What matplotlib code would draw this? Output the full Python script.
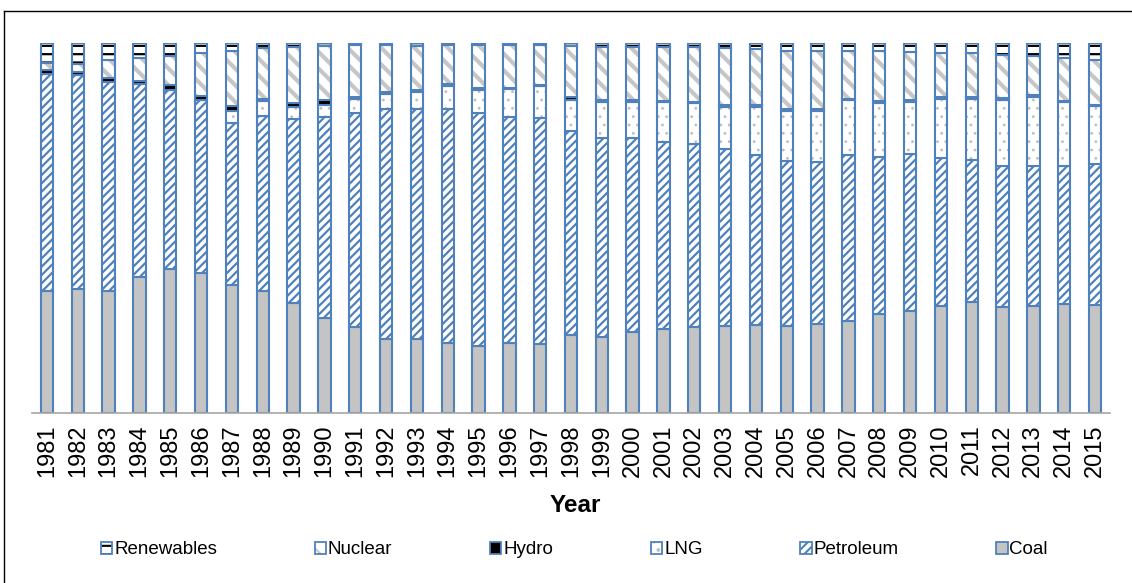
import numpy as np
import matplotlib.pyplot as plt
from matplotlib.patches import Patch
from matplotlib.lines import Line2D
from matplotlib.legend_handler import HandlerTuple

plt.rcParams['font.family'] = ['Liberation Sans', 'DejaVu Sans']
plt.rcParams['hatch.linewidth'] = 1.5

# parts de l'énergie primaire (%)
years = list(range(1981, 2016))
coal = [33.0, 33.5, 33.0, 36.8, 38.9, 37.8, 34.6, 33.0, 29.7, 25.7, 23.2, 20.0, 20.0, 18.9, 18.1,
        18.9, 18.6, 21.1, 20.5, 21.9, 22.7, 23.2, 23.5, 23.8, 23.5, 24.1, 24.9, 26.8, 27.6, 28.9,
        30.0, 28.6, 28.9, 29.5, 29.2]
petroleum = [58.8, 58.2, 56.5, 52.2, 48.7, 46.8, 43.8, 47.3, 49.7, 54.2, 57.8, 62.2, 62.2, 63.3, 63.0,
             61.0, 61.1, 55.2, 54.1, 52.4, 50.7, 49.3, 47.9, 46.0, 44.7, 44.0, 44.9, 42.4, 42.5, 40.0,
             38.2, 38.3, 38.0, 37.5, 38.4]
lng = [0, 0, 0, 0, 0, 0, 3.1, 4.0, 3.4, 3.4, 3.6, 4.0, 4.8, 6.2, 6.2,
       7.4, 8.6, 8.4, 9.6, 9.7, 10.7, 11.0, 11.3, 13.0, 13.6, 13.8, 14.7, 14.7, 14.1, 16.0,
       16.5, 17.9, 18.7, 17.3, 15.5]
hydro = [1.2, 0.7, 1.1, 0.6, 1.3, 1.2, 1.4, 0.7, 1.1, 1.3, 0.6, 0.5, 0.5, 0.3, 0.5,
         0.4, 0.3, 0.6, 0.6, 0.4, 0.4, 0.4, 0.6, 0.5, 0.4, 0.4, 0.3, 0.5, 0.5, 0.4,
         0.5, 0.4, 0.5, 0.4, 0.4]
nuclear = [1.8, 2.2, 5.0, 6.3, 7.9, 11.5, 14.9, 13.7, 14.9, 14.7, 14.1, 12.8, 11.8, 10.6, 11.5,
           11.5, 10.6, 13.8, 14.2, 14.2, 14.4, 14.7, 15.3, 15.1, 15.8, 15.8, 13.1, 13.5, 12.9, 12.0,
           12.0, 11.7, 10.6, 11.5, 12.3]
renewables = [5.4, 5.7, 4.5, 4.1, 3.4, 2.7, 2.1, 1.4, 1.2, 0.7, 0.5, 0.5, 0.9, 0.6, 0.6,
              0.6, 0.6, 0.9, 1.2, 1.2, 1.2, 1.2, 1.4, 1.6, 2.1, 2.1, 2.1, 2.3, 2.5, 2.7,
              2.7, 3.2, 3.4, 4.1, 4.5]

blue = '#4F81BD'
# nom, valeurs, fond, hachure, couleur hachure, épaisseur hachure
series = [
    ('Coal', coal, '#C4C4C4', None, 'none', 1.0),
    ('Petroleum', petroleum, 'white', '////', blue, 1.6),
    ('LNG', lng, 'white', '..', '#BEBEBE', 0.8),
    ('Hydro', hydro, 'black', None, 'none', 1.0),
    ('Nuclear', nuclear, 'white', '\\\\', '#C6C6C6', 3.0),
    ('Renewables', renewables, 'white', '--', 'black', 1.6),
]

totals = np.sum([s[1] for s in series], axis=0)
x = np.arange(len(years))
w = 0.4

fig = plt.figure(figsize=(11.32, 5.83), dpi=100)
ax = fig.add_axes([31.6 / 1132, 170 / 583, (1110.4 - 31.6) / 1132, 370 / 583])

bottom = np.zeros(len(years))
handles = []
for name, vals, face, hatch, hcol, hlw in series:
    share = np.array(vals) / totals * 100
    bars = ax.bar(x, share, w, bottom=bottom, color=face, edgecolor=hcol, hatch=hatch, linewidth=0)
    for p in bars:
        if hatch and hasattr(p, 'set_hatch_linewidth'):
            p.set_hatch_linewidth(hlw)
    ax.bar(x, share, w, bottom=bottom, fill=False, edgecolor=blue, linewidth=1.5)
    bottom += share
    p1 = Patch(facecolor=face, edgecolor=hcol, hatch=hatch, linewidth=0)
    if hatch and hasattr(p1, 'set_hatch_linewidth'):
        p1.set_hatch_linewidth(hlw)
    p2 = Patch(fill=False, edgecolor=blue, linewidth=1.3)
    handles.append(((p1, p2), name))

ax.set_xlim(-0.5, len(years) - 0.5)
ax.set_ylim(0, 100)
ax.set_yticks([])
ax.set_xticks(x)
ax.set_xticklabels([str(y) for y in years], rotation=90, fontsize=17)
ax.tick_params(axis='x', length=0, pad=8)
for s in ['top', 'right', 'left']:
    ax.spines[s].set_visible(False)
ax.spines['bottom'].set_color('#A6A6A6')
ax.spines['bottom'].set_linewidth(1.2)

fig.text(575 / 1132, 1 - 505 / 583, 'Year', fontsize=17.5, fontweight='bold', ha='center', va='center')

handles = handles[::-1]
fig.legend([h for h, n in handles], [n for h, n in handles],
           handler_map={tuple: HandlerTuple(ndivide=1)},
           loc='center', bbox_to_anchor=(101 / 1132, 1 - 565 / 583, 947 / 1132, 30 / 583),
           mode='expand', ncol=6, frameon=False, fontsize=13.5,
           handlelength=0.6, handleheight=0.6, handletextpad=0.1, borderpad=0, borderaxespad=0)

# cadre du graphique (bords haut et gauche visibles)
fig.add_artist(Line2D([4 / 1132, 1], [1 - 11 / 583, 1 - 11 / 583], transform=fig.transFigure, color='black', lw=1))
fig.add_artist(Line2D([4 / 1132, 4 / 1132], [0, 1 - 11 / 583], transform=fig.transFigure, color='black', lw=1))

fig.savefig('out.png', dpi=100)
